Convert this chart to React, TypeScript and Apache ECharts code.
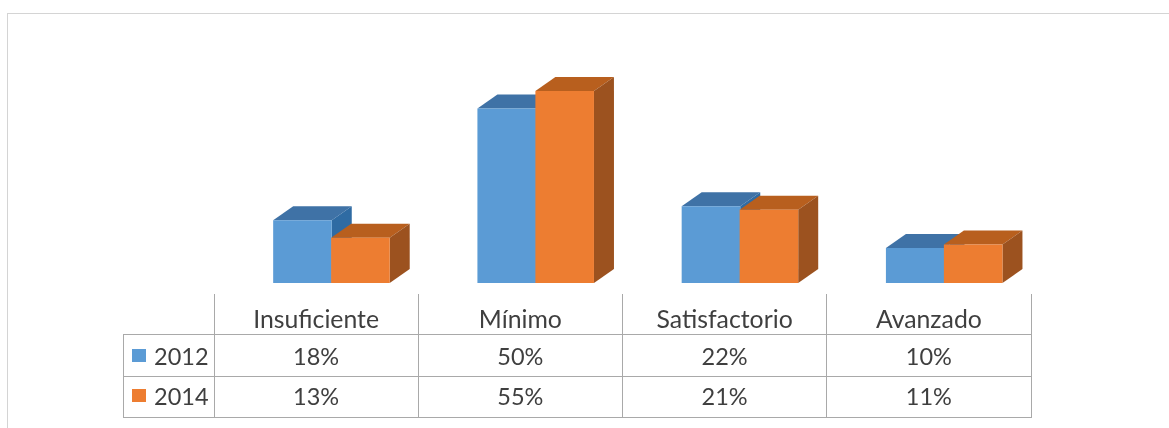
import React, { useEffect, useRef } from "react";
import * as echarts from "echarts";

const categories = ["Insuficiente", "Mínimo", "Satisfactorio", "Avanzado"];
const seriesNames = ["2012", "2014"];
const values2012 = [18, 50, 22, 10];
const values2014 = [13, 55, 21, 11];
const colors2012 = { front: "#5b9bd5", top: "#3f72a6", side: "#2f6ba3" };
const colors2014 = { front: "#ed7d31", top: "#b85f1e", side: "#9c521f" };

const W = 1169;
const H = 428;
const GRID_LEFT = 214;
const GRID_RIGHT_X = 1031;
const BASE_Y = 283;
const PX_PER_UNIT = 3.49;
const FONT = "Lato, 'Open Sans', sans-serif";
const TEXT = "#3f3f3f";
const LINE = "#a9a9a9";

function barSeries(name: string, values: number[], c: any, offset: number, z: number) {
  return {
    type: "custom",
    name,
    z,
    clip: false,
    data: values.map((v, i) => [i, v]),
    encode: { x: 0, y: 1 },
    renderItem: (_: any, api: any) => {
      const p = api.coord([api.value(0), api.value(1)]);
      const b = api.coord([api.value(0), 0]);
      const band = api.size([1, 0])[0];
      const w = band * 0.2868;
      const dx = 20;
      const dy = 14;
      const x0 = p[0] + band * offset;
      const x1 = x0 + w;
      const t = p[1];
      const y0 = b[1];
      const poly = (points: number[][], fill: string) => ({
        type: "polygon",
        shape: { points },
        style: { fill, stroke: null },
      });
      return {
        type: "group",
        children: [
          poly([[x0, t], [x0 + dx, t - dy], [x1 + dx, t - dy], [x1, t]], c.top),
          poly([[x1, t], [x1 + dx, t - dy], [x1 + dx, y0 - dy], [x1, y0]], c.side),
          poly([[x0, t], [x1, t], [x1, y0], [x0, y0]], c.front),
        ],
      };
    },
  };
}

const hLine = (x1: number, x2: number, y: number, stroke = LINE) => ({
  type: "line",
  silent: true,
  shape: { x1, y1: y, x2, y2: y },
  style: { stroke, lineWidth: 1 },
});
const vLine = (x: number, y1: number, y2: number, stroke = LINE) => ({
  type: "line",
  silent: true,
  shape: { x1: x, y1, x2: x, y2 },
  style: { stroke, lineWidth: 1 },
});
const label = (text: string, x: number, y: number, align = "center", size = 23.5) => ({
  type: "text",
  silent: true,
  x,
  y,
  style: { text, fill: TEXT, font: `${size}px ${FONT}`, align, verticalAlign: "middle" },
});

export default function App() {
  const ref = useRef<HTMLDivElement>(null);
  useEffect(() => {
    const chart = echarts.init(ref.current!, undefined, { renderer: "svg" });
    const colW = (GRID_RIGHT_X - GRID_LEFT) / categories.length;
    const rowY = [318, 356, 396];
    const table: any[] = [
      hLine(7, 1169, 13.5, "#d4d4d4"),
      vLine(7.5, 13, 428, "#d4d4d4"),
      hLine(123, GRID_RIGHT_X, 334.5),
      hLine(123, GRID_RIGHT_X, 376.5),
      hLine(123, GRID_RIGHT_X, 417.5),
      vLine(123.5, 334, 418),
    ];
    for (let i = 0; i <= categories.length; i++) {
      table.push(vLine(Math.floor(GRID_LEFT + colW * i) + 0.5, 294, 418));
    }
    categories.forEach((c, i) => {
      const cx = GRID_LEFT + colW * (i + 0.5);
      table.push(label(c, cx, rowY[0], "center", 24.8));
      table.push(label(`${values2012[i]}%`, cx, rowY[1]));
      table.push(label(`${values2014[i]}%`, cx, rowY[2]));
    });
    [colors2012.front, colors2014.front].forEach((fill, i) => {
      table.push({
        type: "rect",
        silent: true,
        shape: { x: 132, y: rowY[i + 1] - 7, width: 14, height: 13 },
        style: { fill },
      });
      table.push(label(seriesNames[i], 154, rowY[i + 1], "left"));
    });

    chart.setOption({
      animation: false,
      backgroundColor: "#ffffff",
      grid: {
        left: GRID_LEFT,
        top: BASE_Y - 60 * PX_PER_UNIT,
        width: GRID_RIGHT_X - GRID_LEFT,
        height: 60 * PX_PER_UNIT,
      },
      xAxis: {
        type: "category",
        data: categories,
        axisLine: { show: false },
        axisTick: { show: false },
        axisLabel: { show: false },
      },
      yAxis: { type: "value", min: 0, max: 60, show: false },
      graphic: { elements: table },
      series: [
        barSeries(seriesNames[0], values2012, colors2012, -0.2103, 2),
        barSeries(seriesNames[1], values2014, colors2014, 0.0735, 3),
      ],
    });
    return () => chart.dispose();
  }, []);
  return (
    <div
      ref={ref}
      style={{ position: "fixed", left: 0, top: 0, width: W, height: H, filter: "blur(0.7px)" }}
    />
  );
}
